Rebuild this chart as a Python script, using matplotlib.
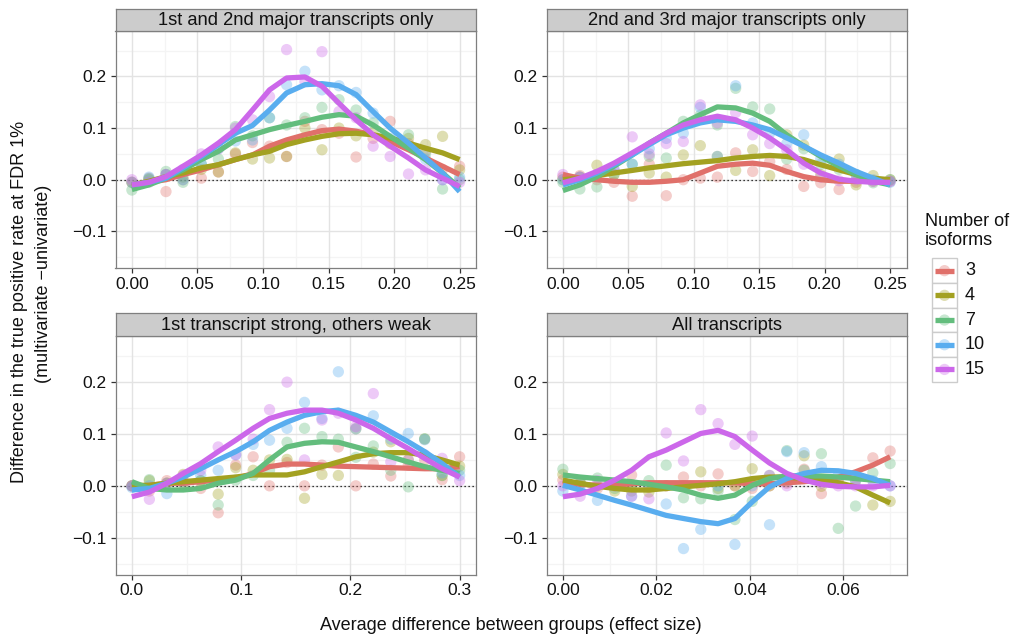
import numpy as np
import matplotlib
matplotlib.use("Agg")
import matplotlib.pyplot as plt
from matplotlib.patches import Rectangle

plt.rcParams['font.family'] = ['Liberation Sans', 'DejaVu Sans']

# ---------------- data ----------------
isoforms = ['3', '4', '7', '10', '15']
colors = ['#E0706A', '#A3A121', '#63BD7D', '#59ADEF', '#CC67EA']

panel_titles = ['1st and 2nd major transcripts only',
                '2nd and 3rd major transcripts only',
                '1st transcript strong, others weak',
                'All transcripts']

x_tl = [0.000, 0.013, 0.026, 0.039, 0.053, 0.066, 0.079, 0.092, 0.105, 0.118,
        0.132, 0.145, 0.158, 0.171, 0.184, 0.197, 0.211, 0.224, 0.237, 0.250]
x_tr = x_tl
x_bl = [0.000, 0.016, 0.032, 0.047, 0.063, 0.079, 0.095, 0.111, 0.126, 0.142,
        0.158, 0.174, 0.189, 0.205, 0.221, 0.237, 0.253, 0.268, 0.284, 0.300]
x_br = [0.0000, 0.0037, 0.0074, 0.0111, 0.0147, 0.0184, 0.0221, 0.0258, 0.0295, 0.0332,
        0.0368, 0.0405, 0.0442, 0.0479, 0.0516, 0.0553, 0.0589, 0.0626, 0.0663, 0.0700]

# observed points (difference in TPR) per number of isoforms
tl_points = {
    '3':  [-0.005, 0.003, -0.023, 0.000, 0.003, 0.015, 0.050, 0.072, 0.065, 0.045, 0.113, 0.097, 0.090, 0.044, 0.080, 0.113, 0.070, 0.055, 0.020, 0.026],
    '4':  [-0.005, 0.000, 0.010, 0.005, 0.020, 0.015, 0.052, 0.040, 0.042, 0.045, 0.100, 0.058, 0.100, 0.085, 0.092, 0.070, 0.080, 0.068, 0.084, 0.019],
    '7':  [-0.020, 0.002, 0.016, -0.005, 0.030, 0.040, 0.103, 0.085, 0.120, 0.106, 0.120, 0.140, 0.155, 0.135, 0.110, 0.075, 0.087, 0.050, -0.018, 0.000],
    '10': [-0.005, 0.005, 0.010, 0.000, 0.030, 0.060, 0.075, 0.077, 0.120, 0.184, 0.210, 0.174, 0.182, 0.169, 0.129, 0.080, 0.065, 0.040, 0.000, 0.005],
    '15': [0.000, -0.005, 0.010, 0.020, 0.050, 0.060, 0.100, 0.116, 0.161, 0.252, 0.190, 0.248, 0.132, 0.120, 0.065, 0.045, 0.011, 0.019, 0.000, -0.005],
}
tr_points = {
    '3':  [0.005, 0.008, 0.000, -0.005, -0.032, 0.030, -0.031, 0.000, 0.003, 0.005, 0.052, 0.016, 0.035, 0.020, -0.013, -0.006, -0.019, -0.005, -0.003, -0.003],
    '4':  [0.000, 0.005, 0.028, 0.010, -0.013, 0.013, 0.005, 0.048, 0.066, 0.045, 0.018, 0.058, 0.008, 0.087, 0.067, 0.010, 0.040, -0.010, 0.008, 0.000],
    '7':  [-0.005, -0.018, -0.014, 0.010, 0.030, 0.045, 0.042, 0.113, 0.125, 0.106, 0.177, 0.141, 0.137, 0.040, 0.060, 0.030, 0.020, 0.010, -0.006, 0.000],
    '10': [0.000, 0.005, 0.010, 0.020, 0.030, 0.060, 0.080, 0.090, 0.140, 0.045, 0.182, 0.110, 0.090, 0.070, 0.087, 0.040, 0.030, 0.010, 0.000, -0.005],
    '15': [0.010, 0.005, 0.010, 0.020, 0.083, 0.050, 0.070, 0.074, 0.145, 0.110, 0.130, 0.087, 0.070, 0.058, 0.030, 0.005, -0.002, 0.000, -0.003, -0.003],
}
bl_points = {
    '3':  [0.000, -0.010, 0.010, 0.005, -0.005, -0.052, 0.040, 0.056, 0.000, 0.045, 0.000, 0.040, 0.075, 0.000, 0.042, 0.019, 0.040, 0.050, 0.012, 0.056],
    '4':  [0.000, 0.010, 0.005, 0.022, 0.010, -0.016, 0.035, 0.030, 0.050, 0.051, -0.024, 0.022, 0.020, 0.110, 0.065, 0.085, 0.050, 0.090, 0.020, 0.038],
    '7':  [0.000, 0.012, 0.005, 0.005, 0.010, -0.037, 0.011, 0.020, 0.030, 0.084, 0.111, 0.095, 0.090, 0.055, 0.077, 0.030, -0.002, 0.091, 0.020, 0.030],
    '10': [-0.003, 0.000, -0.015, 0.010, 0.020, 0.030, 0.060, 0.080, 0.088, 0.111, 0.161, 0.130, 0.220, 0.110, 0.135, 0.090, 0.101, 0.089, 0.025, 0.020],
    '15': [0.000, -0.026, 0.005, 0.020, 0.030, 0.075, 0.060, 0.090, 0.147, 0.200, 0.050, 0.127, 0.140, 0.114, 0.178, 0.046, 0.050, 0.060, 0.053, 0.010],
}
br_points = {
    '3':  [0.011, 0.005, -0.005, 0.000, 0.021, -0.003, 0.000, 0.017, 0.000, 0.023, 0.000, -0.005, 0.000, 0.005, 0.032, -0.015, 0.010, 0.020, 0.054, 0.067],
    '4':  [0.022, 0.005, 0.000, -0.010, -0.010, -0.012, 0.000, 0.000, 0.027, -0.005, 0.000, 0.033, 0.000, 0.008, 0.058, -0.001, 0.005, 0.010, -0.037, -0.030],
    '7':  [0.032, 0.010, 0.015, -0.005, 0.000, 0.010, 0.040, -0.023, -0.025, -0.010, -0.065, -0.030, 0.020, 0.068, 0.030, 0.062, -0.082, -0.039, 0.025, 0.043],
    '10': [-0.010, 0.000, -0.028, 0.005, -0.020, 0.000, -0.035, -0.121, -0.084, 0.000, -0.113, 0.000, -0.075, 0.066, 0.064, 0.037, 0.020, 0.010, 0.010, 0.000],
    '15': [0.000, -0.020, 0.010, 0.000, -0.020, -0.025, 0.102, 0.048, 0.147, 0.120, 0.080, 0.096, 0.020, 0.000, 0.015, 0.005, 0.000, 0.000, 0.000, 0.000],
}

# smoothed trend (loess) values at the same effect sizes
tl_smooth = {
    '3':  [-0.013, -0.005, 0.000, 0.010, 0.019, 0.029, 0.039, 0.048, 0.065, 0.077, 0.087, 0.095, 0.098, 0.094, 0.087, 0.074, 0.058, 0.042, 0.026, 0.010],
    '4':  [-0.010, -0.003, 0.006, 0.013, 0.023, 0.029, 0.039, 0.048, 0.055, 0.068, 0.077, 0.084, 0.089, 0.090, 0.087, 0.081, 0.071, 0.061, 0.052, 0.039],
    '7':  [-0.019, -0.010, 0.003, 0.019, 0.039, 0.055, 0.077, 0.087, 0.097, 0.105, 0.113, 0.121, 0.126, 0.123, 0.106, 0.084, 0.061, 0.039, 0.013, -0.016],
    '10': [-0.010, -0.005, 0.003, 0.023, 0.045, 0.068, 0.090, 0.105, 0.135, 0.168, 0.184, 0.186, 0.182, 0.165, 0.132, 0.100, 0.071, 0.042, 0.013, -0.023],
    '15': [-0.010, -0.005, 0.006, 0.026, 0.048, 0.071, 0.097, 0.135, 0.174, 0.197, 0.199, 0.181, 0.148, 0.116, 0.087, 0.065, 0.042, 0.019, 0.003, -0.013],
}
tr_smooth = {
    '3':  [0.010, 0.003, 0.000, -0.003, -0.005, -0.005, -0.003, 0.000, 0.013, 0.026, 0.030, 0.032, 0.028, 0.016, 0.006, 0.000, -0.003, -0.003, -0.003, -0.003],
    '4':  [0.000, 0.003, 0.008, 0.013, 0.018, 0.023, 0.027, 0.031, 0.034, 0.037, 0.042, 0.045, 0.047, 0.045, 0.039, 0.029, 0.019, 0.010, 0.003, 0.000],
    '7':  [-0.021, -0.010, 0.006, 0.026, 0.048, 0.071, 0.090, 0.110, 0.126, 0.141, 0.139, 0.129, 0.113, 0.087, 0.065, 0.045, 0.026, 0.010, -0.003, -0.010],
    '10': [-0.010, 0.000, 0.013, 0.029, 0.048, 0.068, 0.087, 0.100, 0.110, 0.116, 0.113, 0.106, 0.097, 0.081, 0.065, 0.048, 0.032, 0.016, 0.003, -0.010],
    '15': [-0.006, 0.003, 0.016, 0.032, 0.052, 0.071, 0.090, 0.106, 0.116, 0.123, 0.116, 0.100, 0.081, 0.058, 0.032, 0.013, 0.001, -0.003, -0.005, -0.005],
}
bl_smooth = {
    '3':  [-0.002, 0.001, 0.005, 0.005, 0.008, 0.011, 0.014, 0.024, 0.037, 0.042, 0.042, 0.040, 0.038, 0.037, 0.036, 0.035, 0.034, 0.033, 0.033, 0.037],
    '4':  [0.001, 0.001, 0.005, 0.008, 0.011, 0.014, 0.017, 0.021, 0.021, 0.021, 0.027, 0.037, 0.046, 0.056, 0.062, 0.064, 0.064, 0.059, 0.050, 0.040],
    '7':  [0.008, -0.005, -0.008, -0.008, -0.005, 0.005, 0.011, 0.024, 0.050, 0.075, 0.082, 0.085, 0.084, 0.075, 0.066, 0.056, 0.046, 0.037, 0.030, 0.024],
    '10': [-0.008, -0.005, 0.005, 0.017, 0.033, 0.050, 0.066, 0.085, 0.107, 0.123, 0.136, 0.143, 0.146, 0.136, 0.123, 0.104, 0.085, 0.066, 0.043, 0.017],
    '15': [-0.021, -0.012, 0.005, 0.024, 0.043, 0.066, 0.088, 0.111, 0.130, 0.140, 0.146, 0.146, 0.140, 0.127, 0.111, 0.091, 0.072, 0.053, 0.033, 0.017],
}
br_smooth = {
    '3':  [0.008, 0.003, 0.001, 0.001, 0.004, 0.006, 0.006, 0.006, 0.006, 0.006, 0.006, 0.004, 0.004, 0.006, 0.008, 0.011, 0.017, 0.027, 0.040, 0.056],
    '4':  [0.011, 0.005, -0.001, -0.005, -0.008, -0.008, -0.005, -0.002, 0.001, 0.004, 0.008, 0.014, 0.017, 0.017, 0.014, 0.011, 0.006, -0.002, -0.018, -0.033],
    '7':  [0.021, 0.017, 0.014, 0.011, 0.008, 0.003, -0.002, -0.008, -0.018, -0.024, -0.018, 0.001, 0.014, 0.019, 0.019, 0.019, 0.017, 0.014, 0.011, 0.008],
    '10': [0.001, -0.008, -0.018, -0.028, -0.037, -0.047, -0.057, -0.063, -0.069, -0.073, -0.063, -0.031, -0.002, 0.014, 0.024, 0.030, 0.029, 0.024, 0.014, 0.001],
    '15': [-0.021, -0.016, -0.005, 0.011, 0.030, 0.056, 0.069, 0.085, 0.101, 0.107, 0.095, 0.069, 0.044, 0.024, 0.011, 0.003, -0.001, -0.002, -0.002, 0.001],
}

y_ticks = [-0.1, 0.0, 0.1, 0.2]
y_ticklabels = ['\u22120.1', '0.0', '0.1', '0.2']
x_ticks_top = [0.00, 0.05, 0.10, 0.15, 0.20, 0.25]
x_ticklabels_top = ['0.00', '0.05', '0.10', '0.15', '0.20', '0.25']
x_ticks_bl = [0.0, 0.1, 0.2, 0.3]
x_ticklabels_bl = ['0.0', '0.1', '0.2', '0.3']
x_ticks_br = [0.00, 0.02, 0.04, 0.06]
x_ticklabels_br = ['0.00', '0.02', '0.04', '0.06']

# ---------------- figure ----------------
W, H = 1014, 639
fig = plt.figure(figsize=(W / 100, H / 100), dpi=100)


def rect(l, t, r, b):
    return [l / W, 1 - b / H, (r - l) / W, (b - t) / H]


GREY50 = '#7F7F7F'
TXT = '#111111'
PT_SIZE = 66
LW = 3.8

panels = [
    dict(box=(115.5, 30.5, 476, 268), strip=(115.5, 9, 476, 30.5), x=x_tl, pts=tl_points, sm=tl_smooth,
         xt=x_ticks_top, xtl=x_ticklabels_top, xlim=(-0.0125, 0.2625),
         xminor=[0.025, 0.075, 0.125, 0.175, 0.225], title=panel_titles[0]),
    dict(box=(546.5, 30.5, 906.5, 268), strip=(546.5, 9, 906.5, 30.5), x=x_tr, pts=tr_points, sm=tr_smooth,
         xt=x_ticks_top, xtl=x_ticklabels_top, xlim=(-0.0125, 0.2625),
         xminor=[0.025, 0.075, 0.125, 0.175, 0.225], title=panel_titles[1]),
    dict(box=(115.5, 336, 476, 574.5), strip=(115.5, 313, 476, 336), x=x_bl, pts=bl_points, sm=bl_smooth,
         xt=x_ticks_bl, xtl=x_ticklabels_bl, xlim=(-0.015, 0.315),
         xminor=[0.05, 0.15, 0.25], title=panel_titles[2]),
    dict(box=(546.5, 336, 906.5, 574.5), strip=(546.5, 313, 906.5, 336), x=x_br, pts=br_points, sm=br_smooth,
         xt=x_ticks_br, xtl=x_ticklabels_br, xlim=(-0.0035, 0.0735),
         xminor=[0.01, 0.03, 0.05, 0.07], title=panel_titles[3]),
]

for p in panels:
    ax = fig.add_axes(rect(*p['box']))
    ax.set_xlim(*p['xlim'])
    ax.set_ylim(-0.171, 0.289)
    # grid
    for xm in p['xminor']:
        ax.axvline(xm, color='#F4F4F4', lw=0.9, zorder=0)
    for ym in [-0.15, -0.05, 0.05, 0.15, 0.25]:
        ax.axhline(ym, color='#F4F4F4', lw=0.9, zorder=0)
    for xv in p['xt']:
        ax.axvline(xv, color='#E3E3E3', lw=1.0, zorder=0.1)
    for yv in y_ticks:
        ax.axhline(yv, color='#E3E3E3', lw=1.0, zorder=0.1)
    ax.axhline(0, color='black', lw=0.9, ls=(0, (1, 2.2)), zorder=1)
    for iso, c in zip(isoforms, colors):
        ax.scatter(p['x'], p['pts'][iso], s=PT_SIZE, color=c, alpha=0.35,
                   edgecolors='none', zorder=2)
    for iso, c in zip(isoforms, colors):
        ax.plot(p['x'], p['sm'][iso], color=c, lw=LW, solid_capstyle='butt',
                solid_joinstyle='round', zorder=3)
    ax.set_xticks(p['xt'])
    ax.set_xticklabels(p['xtl'])
    ax.set_yticks(y_ticks)
    ax.set_yticklabels(y_ticklabels)
    ax.tick_params(direction='out', length=3.4, width=0.9, color='#333333',
                   labelsize=12.5, labelcolor=TXT, pad=3)
    for s in ax.spines.values():
        s.set_color(GREY50)
        s.set_linewidth(0.9)
    # strip
    sax = fig.add_axes(rect(*p['strip']))
    sax.set_facecolor('#CCCCCC')
    sax.set_xticks([])
    sax.set_yticks([])
    for s in sax.spines.values():
        s.set_color(GREY50)
        s.set_linewidth(0.9)
    sax.text(0.5, 0.46, p['title'], ha='center', va='center', fontsize=13.2,
             color=TXT, transform=sax.transAxes)

# axis titles
fig.text(511 / W, 1 - 625 / H, 'Average difference between groups (effect size)',
         ha='center', va='center', fontsize=13, color=TXT)
fig.text(20 / W, 1 - 302 / H, 'Difference in the true positive rate at FDR 1%',
         ha='center', va='center', rotation=90, fontsize=13, color=TXT)
fig.text(44 / W, 1 - 284 / H, '(multivariate \u2212univariate)',
         ha='center', va='center', rotation=90, fontsize=13, color=TXT)

# legend
lax = fig.add_axes(rect(912, 200, 1014, 390))
lax.set_xlim(912, 1014)
lax.set_ylim(390, 200)
lax.axis('off')
lax.text(925, 221.5, 'Number of', ha='left', va='center', fontsize=13, color=TXT)
lax.text(925, 241, 'isoforms', ha='left', va='center', fontsize=13, color=TXT)
for i, (iso, c) in enumerate(zip(isoforms, colors)):
    top = 258.3 + 24.7 * i
    lax.add_patch(Rectangle((932.3, top), 24.4, 24.7, facecolor='white',
                            edgecolor='#CCCCCC', lw=1.0))
    cy = top + 12.35
    lax.scatter([944.5], [cy], s=PT_SIZE, color=c, alpha=0.35, edgecolors='none')
    lax.plot([935, 954], [cy, cy], color=c, lw=LW, solid_capstyle='butt')
    lax.text(965, cy, iso, ha='left', va='center', fontsize=13, color=TXT)

fig.savefig('out.png', dpi=100)
